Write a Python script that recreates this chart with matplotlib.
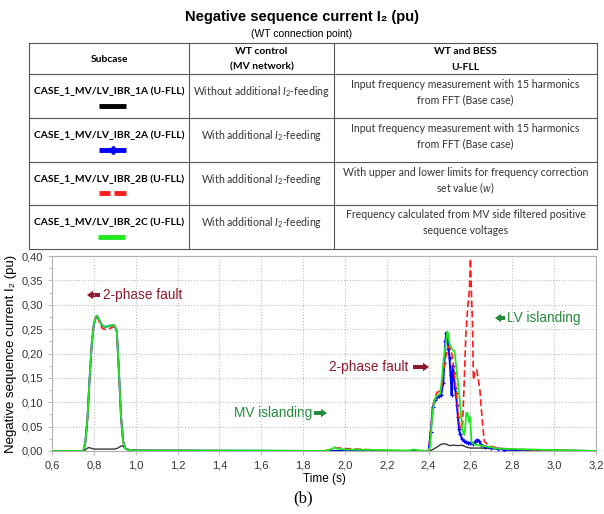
import matplotlib
matplotlib.use("Agg")
import matplotlib.pyplot as plt
from matplotlib.ticker import FuncFormatter, MultipleLocator
from matplotlib.patches import FancyArrow

plt.rcParams['mathtext.fontset'] = 'custom'
plt.rcParams['mathtext.rm'] = 'Lato'
plt.rcParams['mathtext.it'] = 'Lato:italic'
plt.rcParams['mathtext.bf'] = 'Lato:bold'

# ---------------- data ----------------
t_1a = [0.60, 0.755, 0.765, 0.775, 0.785, 0.80, 0.85, 0.90, 0.915, 0.925, 0.935, 0.945, 0.96, 1.00, 1.20,
        2.40, 2.42, 2.44, 2.46, 2.48, 2.50, 2.52, 2.54, 2.56, 2.58, 2.60, 2.65, 2.70, 2.80, 3.00, 3.20]
i2_1a = [0.0, 0.0, 0.005, 0.007, 0.006, 0.004, 0.004, 0.004, 0.006, 0.009, 0.011, 0.008, 0.003, 0.001, 0.0,
         0.0, 0.003, 0.008, 0.014, 0.015, 0.011, 0.012, 0.011, 0.012, 0.008, 0.006, 0.006, 0.005, 0.003, 0.001, 0.0]

t_2a = [0.60, 0.75, 0.76, 0.77, 0.78, 0.79, 0.80, 0.81, 0.815, 0.82, 0.83, 0.84, 0.85, 0.86, 0.87, 0.88,
        0.89, 0.90, 0.91, 0.92, 0.93, 0.94, 0.95, 0.97, 1.00, 1.90,
        2.40, 2.41, 2.42, 2.43, 2.44, 2.45, 2.46, 2.47, 2.475, 2.48, 2.485, 2.49, 2.495, 2.50, 2.505, 2.51,
        2.515, 2.52, 2.525, 2.53, 2.535, 2.54, 2.545, 2.55, 2.56, 2.57, 2.58, 2.59, 2.60, 2.61, 2.62, 2.63,
        2.64, 2.65, 2.67, 2.70, 2.73, 2.76, 2.80, 2.90, 3.00, 3.20]
i2_2a = [0.0, 0.0, 0.02, 0.07, 0.15, 0.22, 0.26, 0.275, 0.277, 0.274, 0.264, 0.258, 0.255, 0.255, 0.256, 0.257,
         0.258, 0.257, 0.245, 0.16, 0.07, 0.02, 0.005, 0.002, 0.001, 0.0,
         0.0, 0.04, 0.09, 0.105, 0.11, 0.112, 0.115, 0.14, 0.18, 0.225, 0.243, 0.235, 0.21, 0.19, 0.155, 0.115,
         0.175, 0.16, 0.13, 0.12, 0.095, 0.07, 0.045, 0.035, 0.025, 0.02, 0.018, 0.017, 0.016, 0.015, 0.018, 0.023,
         0.021, 0.013, 0.009, 0.006, 0.005, 0.003, 0.002, 0.002, 0.001, 0.0]

t_2b = [0.60, 0.75, 0.76, 0.77, 0.78, 0.79, 0.80, 0.81, 0.815, 0.82, 0.83, 0.84, 0.85, 0.86, 0.87, 0.88,
        0.89, 0.90, 0.91, 0.92, 0.93, 0.94, 0.95, 0.97, 1.00, 1.90, 1.94, 1.95, 1.96, 1.98, 2.00, 2.10, 2.20, 2.30,
        2.40, 2.41, 2.42, 2.43, 2.44, 2.46, 2.48, 2.494, 2.505, 2.513, 2.524, 2.537, 2.546, 2.553, 2.562, 2.57,
        2.578, 2.587, 2.595, 2.60, 2.605, 2.61, 2.614, 2.62, 2.63, 2.635, 2.645, 2.655, 2.666, 2.69, 2.75,
        2.90, 3.20]
i2_2b = [0.0, 0.0, 0.02, 0.07, 0.15, 0.22, 0.26, 0.276, 0.279, 0.272, 0.26, 0.252, 0.25, 0.249, 0.25, 0.252,
         0.254, 0.256, 0.245, 0.16, 0.07, 0.02, 0.005, 0.002, 0.001, 0.0, 0.004, 0.007, 0.006, 0.006, 0.005, 0.003, 0.001, 0.0,
         0.0, 0.04, 0.09, 0.11, 0.12, 0.125, 0.19, 0.215, 0.21, 0.195, 0.154, 0.099, 0.058, 0.045, 0.05, 0.14,
         0.24, 0.295, 0.33, 0.394, 0.32, 0.26, 0.146, 0.16, 0.167, 0.153, 0.126, 0.07, 0.02, 0.01, 0.005,
         0.002, 0.0]

t_2c = [0.60, 0.75, 0.76, 0.77, 0.78, 0.79, 0.80, 0.81, 0.815, 0.82, 0.83, 0.84, 0.85, 0.86, 0.87, 0.88,
        0.89, 0.90, 0.91, 0.92, 0.93, 0.94, 0.95, 0.97, 1.00, 1.40, 1.60, 1.90, 1.94, 1.95, 1.96, 1.98, 2.00,
        2.20, 2.30, 2.33, 2.36, 2.40, 2.408, 2.415, 2.425, 2.436, 2.456, 2.472, 2.49, 2.495, 2.50, 2.513,
        2.524, 2.53, 2.537, 2.55, 2.561, 2.57, 2.575, 2.58, 2.586, 2.592, 2.598, 2.605, 2.62, 2.64, 2.667,
        2.73, 2.80, 3.00, 3.20]
i2_2c = [0.0, 0.0, 0.02, 0.07, 0.15, 0.22, 0.26, 0.275, 0.277, 0.274, 0.264, 0.258, 0.255, 0.255, 0.256, 0.257,
         0.258, 0.257, 0.245, 0.16, 0.07, 0.02, 0.005, 0.002, 0.001, 0.001, 0.001, 0.0, 0.004, 0.008, 0.005, 0.004, 0.003,
         0.002, 0.001, 0.003, 0.001, 0.0, 0.01, 0.06, 0.1, 0.112, 0.118, 0.188, 0.245, 0.235, 0.22, 0.208,
         0.205, 0.18, 0.153, 0.099, 0.043, 0.033, 0.05, 0.078, 0.078, 0.06, 0.07, 0.018, 0.013, 0.012, 0.01,
         0.005, 0.004, 0.002, 0.0]

subcases = ["CASE_1_MV/LV_IBR_1A (U-FLL)", "CASE_1_MV/LV_IBR_2A (U-FLL)",
            "CASE_1_MV/LV_IBR_2B (U-FLL)", "CASE_1_MV/LV_IBR_2C (U-FLL)"]
wt_control = ["Without additional $I_2$-feeding", "With additional $I_2$-feeding",
              "With additional $I_2$-feeding", "With additional $I_2$-feeding"]
bess = [["Input frequency measurement with 15 harmonics", "from FFT (Base case)"],
        ["Input frequency measurement with 15 harmonics", "from FFT (Base case)"],
        ["With upper and lower limits for frequency correction", "set value ($w$)"],
        ["Frequency calculated from MV side filtered positive", "sequence voltages"]]
headers = [["Subcase"], ["WT control", "(MV network)"], ["WT and BESS", "U-FLL"]]

col_black = "#3a3a3a"
col_blue = "#0000ff"
col_red = "#ff1a1a"
col_green = "#22e822"
txt_red = "#8c1a2a"
txt_green = "#238a3c"

# ---------------- figure ----------------
fig = plt.figure(figsize=(6.04, 5.14), dpi=100)
tax = fig.add_axes([0, 0, 1, 1])
tax.set_xlim(0, 604)
tax.set_ylim(514, 0)
tax.axis("off")

SANS = ["Liberation Sans", "DejaVu Sans"]
tax.text(302, 17, "Negative sequence current I₂ (pu)", ha="center", va="center",
         fontsize=10.5, fontweight="bold", family=SANS)
tax.text(302, 34, "(WT connection point)", ha="center", va="center", fontsize=7.5, family=SANS)

# table grid
xs = [29, 189, 334, 597]
ys = [43, 74, 118, 162, 205, 249]
lc = "#555555"
for y in ys:
    tax.plot([xs[0], xs[-1]], [y, y], color=lc, lw=0.8)
for x in xs:
    tax.plot([x, x], [ys[0], ys[-1]], color=lc, lw=0.8)

TF = "Lato"
fsb = 7.4
fsr = 7.6
tcol = "#333333"
cx = [(xs[i] + xs[i + 1]) / 2 for i in range(3)]
tax.text(cx[0], 60, headers[0][0], ha="center", va="center", fontsize=fsb, fontweight="bold", family=TF)
for j in (1, 2):
    tax.text(cx[j], 52, headers[j][0], ha="center", va="center", fontsize=fsb, fontweight="bold", family=TF)
    tax.text(cx[j], 67, headers[j][1], ha="center", va="center", fontsize=fsb, fontweight="bold", family=TF)

for i in range(4):
    top = ys[i + 1]
    tax.text(cx[0], top + 17.5, subcases[i], ha="center", va="center", fontsize=fsb,
             fontweight="bold", family=TF)
    tax.text(cx[1], top + 17.5, wt_control[i], ha="center", va="center", fontsize=fsr,
             family=TF, color=tcol)
    tax.text(cx[2], top + 10, bess[i][0], ha="center", va="center", fontsize=fsr, family=TF, color=tcol)
    tax.text(cx[2], top + 26, bess[i][1], ha="center", va="center", fontsize=fsr, family=TF, color=tcol)

# legend swatches in table
ly = [ys[1] + 32, ys[2] + 32, ys[3] + 31, ys[4] + 32]
tax.plot([99, 126], [ly[0], ly[0]], color="black", lw=3.5, solid_capstyle="butt")
tax.plot([99, 126], [ly[1], ly[1]], color=col_blue, lw=3.5, solid_capstyle="butt")
tax.plot([112.5], [ly[1]], marker="D", color=col_blue, ms=4.5)
tax.plot([99, 110], [ly[2], ly[2]], color=col_red, lw=3.5, solid_capstyle="butt")
tax.plot([114, 126], [ly[2], ly[2]], color=col_red, lw=3.5, solid_capstyle="butt")
tax.plot([98, 125], [ly[3], ly[3]], color=col_green, lw=3.5, solid_capstyle="butt")

# ---------------- plot ----------------
L, R, T, B = 52, 596, 256, 451
ax = fig.add_axes([L / 604, (514 - B) / 514, (R - L) / 604, (B - T) / 514])
ax.set_facecolor("none")
ax.plot(t_1a, i2_1a, color=col_black, lw=1.0, zorder=3)
blue_marks = [k for k, t in enumerate(t_2a) if 2.40 < t < 2.80]
ax.plot(t_2a, i2_2a, color=col_blue, lw=1.4, marker="+", ms=3.5, mew=0.9, markevery=blue_marks, zorder=4)
ax.plot(t_2b, i2_2b, color=col_red, lw=1.2, ls=(0, (4, 2)), zorder=5)
ax.plot(t_2c, i2_2c, color=col_green, lw=1.3, zorder=6)

ax.set_xlim(0.6, 3.2)
ax.set_ylim(0, 0.40)
ax.xaxis.set_major_locator(MultipleLocator(0.2))
ax.yaxis.set_major_locator(MultipleLocator(0.05))
ax.yaxis.set_minor_locator(MultipleLocator(0.025))
ax.xaxis.set_major_formatter(FuncFormatter(lambda v, p: f"{v:.1f}".replace(".", ",")))
ax.yaxis.set_major_formatter(FuncFormatter(lambda v, p: f"{v:.2f}".replace(".", ",")))
ax.grid(True, which="major", color="#bdbdbd", ls=":", lw=0.8)
for s in ax.spines.values():
    s.set_color("#b0b0b0")
    s.set_linewidth(0.8)
ax.tick_params(axis="both", which="major", labelsize=8, colors="#b0b0b0", labelcolor="#333333",
               length=3, width=0.6)
ax.tick_params(axis="y", which="minor", length=2, color="#b0b0b0", width=0.6)
for lab in ax.get_xticklabels() + ax.get_yticklabels():
    lab.set_family(SANS)

ax.set_ylabel("Negative sequence current I₂ (pu)", fontsize=9.5, family=SANS, labelpad=3)
ax.set_xlabel("Time (s)", fontsize=8.5, family=SANS, labelpad=2)

# annotations (figure pixel coordinates)
afs = 9.8
def arrow(x0, x1, y, color):
    tax.add_patch(FancyArrow(x0, y, x1 - x0, 0, width=4.0, head_width=8.5, head_length=6,
                             length_includes_head=True, color=color, lw=0, zorder=10))

arrow(100, 87, 295, txt_red)
tax.text(103, 295, "2-phase fault", color=txt_red, fontsize=afs, family=SANS, va="center", ha="left", zorder=10)
tax.text(312, 413, "MV islanding", color=txt_green, fontsize=afs, family=SANS, va="center", ha="right", zorder=10)
arrow(314, 327, 413, txt_green)
tax.text(408, 367, "2-phase fault", color=txt_red, fontsize=afs, family=SANS, va="center", ha="right", zorder=10)
arrow(413, 429, 367, txt_red)
arrow(505, 495, 318, txt_green)
tax.text(507, 318, "LV islanding", color=txt_green, fontsize=afs, family=SANS, va="center", ha="left", zorder=10)

tax.text(303, 498, "(b)", ha="center", va="center", fontsize=12, family=["Liberation Serif", "DejaVu Serif"])

fig.savefig("out.png", dpi=100)
